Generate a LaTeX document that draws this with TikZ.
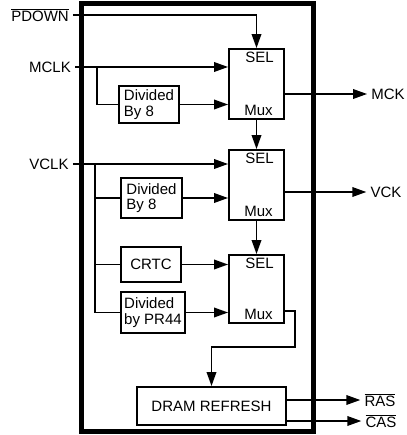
\documentclass[tikz,border=0pt]{standalone}
\usepackage{fontspec}
\setmainfont{Liberation Sans}
\usetikzlibrary{arrows.meta,positioning,calc}

\newcommand{\negsig}[1]{$\overline{\hbox{#1}}$}

\begin{document}
\begin{tikzpicture}[x=1pt,y=-1pt,line width=1.8pt,
    font=\fontsize{15}{15.5}\selectfont,
    blk/.style={rectangle,draw,line width=1.8pt,inner sep=3.5pt,align=left},
    sel/.style={blk,minimum width=55pt,minimum height=70pt},
    arr/.style={-{Triangle[length=14pt,width=9.5pt]}}]
    \useasboundingbox (0,0) rectangle (406,435);

    % chip outline
    \draw[line width=5pt] (81,4) rectangle (313,431);

    % pins
    \node (pdown) at (40,15) {\negsig{PDOWN}};
    \node (mclk) at (50,67) {MCLK};
    \node (vclk) at (49,164) {VCLK};
    \node (mck) at (388,94) {MCK};
    \node (vck) at (386,192) {VCK};
    \node (ras) at (380,400) {\negsig{RAS}};
    \node (cas) at (381,421) {\negsig{CAS}};

    % selectors
    \node[sel,label={[anchor=north,xshift=3pt]north:SEL},label={[anchor=south,xshift=2pt]south:Mux}] (sel1) at (256.5,84) {};
    \node[sel,label={[anchor=north,xshift=3pt]north:SEL},label={[anchor=south,xshift=2pt]south:Mux}] (sel2) at (256.5,185) {};
    \node[sel,minimum height=68pt,label={[anchor=north,xshift=3pt]north:SEL},label={[anchor=south,xshift=2pt]south:Mux}] (sel3) at (256.5,289) {};

    % dividers
    \node[blk,minimum width=60pt,minimum height=35pt] (div1) at (149,104.5) {Divided\\By 8};
    \node[blk,minimum width=61pt,minimum height=40pt] (div2) at (151.5,198) {Divided\\By 8};
    \node[blk,minimum width=60pt,minimum height=35pt] (crtc) at (151,264.5) {CRTC};
    \node[blk,minimum width=64pt,minimum height=41pt] (divpr) at (153,312.5) {Divided\\by PR44};
    \node[blk,minimum width=149pt,minimum height=38pt,align=center] (dram) at (211.5,406) {DRAM REFRESH};

    % MCLK path
    \draw[arr] (pdown.east) -| (sel1.north);
    \draw[arr] (mclk.east) -- (mclk -| sel1.west);
    \coordinate (mbr) at (97,67);
    \draw (mbr) |- (div1.west);
    \draw[arr] (div1.east) -- (div1 -| sel1.west);
    \draw[arr] (sel1.east |- mck) -- (mck.west);
    \draw[arr] (sel1.south) -- (sel2.north);

    % VCLK path
    \draw[arr] (vclk.east) -- (vclk -| sel2.west);
    \coordinate (vbr) at (95,164);
    \draw (vbr) |- (divpr.west);
    \draw (vbr |- div2) -- (div2.west);
    \draw (vbr |- crtc) -- (crtc.west);
    \draw[arr] (div2.east) -- (div2 -| sel2.west);
    \draw[arr] (crtc.east) -- (crtc -| sel3.west);
    \draw[arr] (divpr.east) -- (divpr -| sel3.west);
    \draw[arr] (sel2.east |- vck) -- (vck.west);
    \draw[arr] (sel2.south) -- (sel3.north);

    % refresh
    \draw[arr] ([yshift=13pt]sel3.south east) -- ++(10,0) -- ++(0,36) -| (dram.north);
    \draw[arr] (dram.east |- ras) -- (ras.west);
    \draw[arr] (dram.east |- cas) -- (cas.west);
\end{tikzpicture}
\end{document}
